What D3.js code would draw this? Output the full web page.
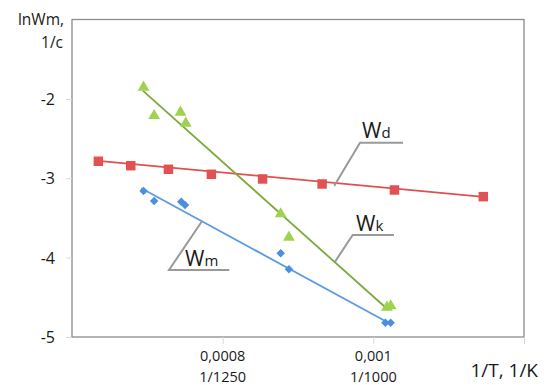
<!DOCTYPE html>
<html>
<head>
<meta charset="utf-8">
<script src="https://cdn.jsdelivr.net/npm/d3@7"></script>
<style>
  body { margin: 0; background: #fff; }
  text { font-family: "Open Sans", "DejaVu Sans", sans-serif; fill: #1a1a1a; }
</style>
</head>
<body>
<div id="chart"></div>
<script>
// data
const wdX = [0.000635, 0.000678, 0.000728, 0.000785, 0.000853, 0.000932, 0.001028, 0.001146];
const wdY = [-2.786, -2.842, -2.887, -2.950, -3.009, -3.072, -3.148, -3.232];
const wdLine = [[0.000635, -2.78], [0.001146, -3.235]];

const wkX = [0.000695, 0.000709, 0.000744, 0.000751, 0.000877, 0.000888, 0.001018, 0.001023];
const wkY = [-1.854, -2.212, -2.169, -2.308, -3.450, -3.744, -4.626, -4.609];
const wkLine = [[0.000694, -1.897], [0.00102, -4.66]];

const wmX = [0.000695, 0.000709, 0.000745, 0.00075, 0.000877, 0.000888, 0.001016, 0.001023];
const wmY = [-3.161, -3.287, -3.295, -3.337, -3.946, -4.147, -4.820, -4.820];
const wmLine = [[0.000692, -3.127], [0.00102, -4.82]];

const yTicks = [-2, -3, -4, -5];
const xTicks = [0.0008, 0.001, 0.0012];
const xTickText = {0.0008: ["0,0008", "1/1250"], 0.001: ["0,001", "1/1000"]};

const W = 544, H = 385;
const margin = { TOP: 19.5, BOTTOM: 48, LEFT: 72, RIGHT: 20 };

const svg = d3.select("#chart").append("svg")
  .attr("width", W).attr("height", H);

const x = d3.scaleLinear().domain([0.0006, 0.0012]).range([margin.LEFT, W - margin.RIGHT]);
const y = d3.scaleLinear().domain([-5, -1]).range([H - margin.BOTTOM, margin.TOP]);

//frame
svg.append("rect")
  .attr("x", x(0.0006)).attr("y", y(-1))
  .attr("width", x(0.0012) - x(0.0006)).attr("height", y(-5) - y(-1))
  .attr("fill", "none").attr("stroke", "#8c8c8c").attr("stroke-width", 1.3);

//y axis
const yAxis = svg.append("g")
  .attr("transform", `translate(${x(0.0006)},0)`)
  .call(d3.axisLeft(y).tickValues(yTicks).tickSize(6).tickFormat(d3.format("d")));
yAxis.select(".domain").remove();
yAxis.selectAll("line").attr("stroke", "#d9d9d9");
yAxis.selectAll("text")
  .attr("x", -17).attr("dy", "0.35em")
  .style("font-size", "16px").style("font-family", "'Open Sans', sans-serif").attr("fill", "#1a1a1a")
  .text(d => "-" + Math.abs(d));

//x axis
const xAxis = svg.append("g")
  .attr("transform", `translate(0,${y(-5)})`)
  .call(d3.axisBottom(x).tickValues(xTicks).tickSize(7).tickFormat(""));
xAxis.select(".domain").remove();
xAxis.selectAll("line").attr("stroke", "#d9d9d9");

xTicks.filter(d => xTickText[d]).forEach(d => {
  xTickText[d].forEach((t, i) => {
    svg.append("text")
      .attr("x", x(d)).attr("y", 361 + i * 21)
      .attr("text-anchor", "middle")
      .style("font-size", "14.5px")
      .text(t);
  });
});

//axis titles
svg.append("text").attr("x", 64).attr("y", 25).attr("text-anchor", "end")
  .style("font-size", "15.5px").text("lnWm,");
svg.append("text").attr("x", 63).attr("y", 48).attr("text-anchor", "end")
  .style("font-size", "15.5px").text("1/c");
svg.append("text").attr("x", 538).attr("y", 377).attr("text-anchor", "end")
  .style("font-size", "19px").text("1/T, 1/K");

//series
const line = d3.line().x(d => x(d[0])).y(d => y(d[1]));

const series = [
  { xs: wdX, ys: wdY, fit: wdLine, lineColor: "#e0504e", markColor: "#e05352", sym: d3.symbolSquare, size: 90, rot: 0 },
  { xs: wkX, ys: wkY, fit: wkLine, lineColor: "#7ea83a", markColor: "#9fd24d", sym: d3.symbolTriangle, size: 60, rot: 0 },
  { xs: wmX, ys: wmY, fit: wmLine, lineColor: "#5b9be0", markColor: "#4a8fe0", sym: d3.symbolSquare, size: 36, rot: 45 }
];

series.forEach(s => {
  svg.append("path")
    .attr("d", line(s.fit))
    .attr("fill", "none").attr("stroke", s.lineColor).attr("stroke-width", 1.8);
  svg.selectAll(null)
    .data(s.xs.map((v, i) => [v, s.ys[i]]))
    .enter().append("path")
    .attr("d", d3.symbol().type(s.sym).size(s.size))
    .attr("transform", d => `translate(${x(d[0])},${y(d[1])}) rotate(${s.rot})`)
    .attr("fill", s.markColor);
});

//callouts
const callouts = [
  { pts: [[334.3, 185.7], [360, 142.7], [403, 142.7]], lx: 362, ly: 138, main: "W", sub: "d" },
  { pts: [[335, 261.7], [352.7, 235], [394, 235]], lx: 356, ly: 231, main: "W", sub: "k" },
  { pts: [[202.3, 220.7], [169, 270], [229.3, 270]], lx: 185, ly: 266, main: "W", sub: "m" }
];
callouts.forEach(c => {
  svg.append("path")
    .attr("d", d3.line()(c.pts))
    .attr("fill", "none").attr("stroke", "#999").attr("stroke-width", 2);
  const t = svg.append("text").attr("x", c.lx).attr("y", c.ly).style("font-size", "21px");
  t.append("tspan").text(c.main);
  t.append("tspan").style("font-size", "15px").text(c.sub);
});
</script>
</body>
</html>
